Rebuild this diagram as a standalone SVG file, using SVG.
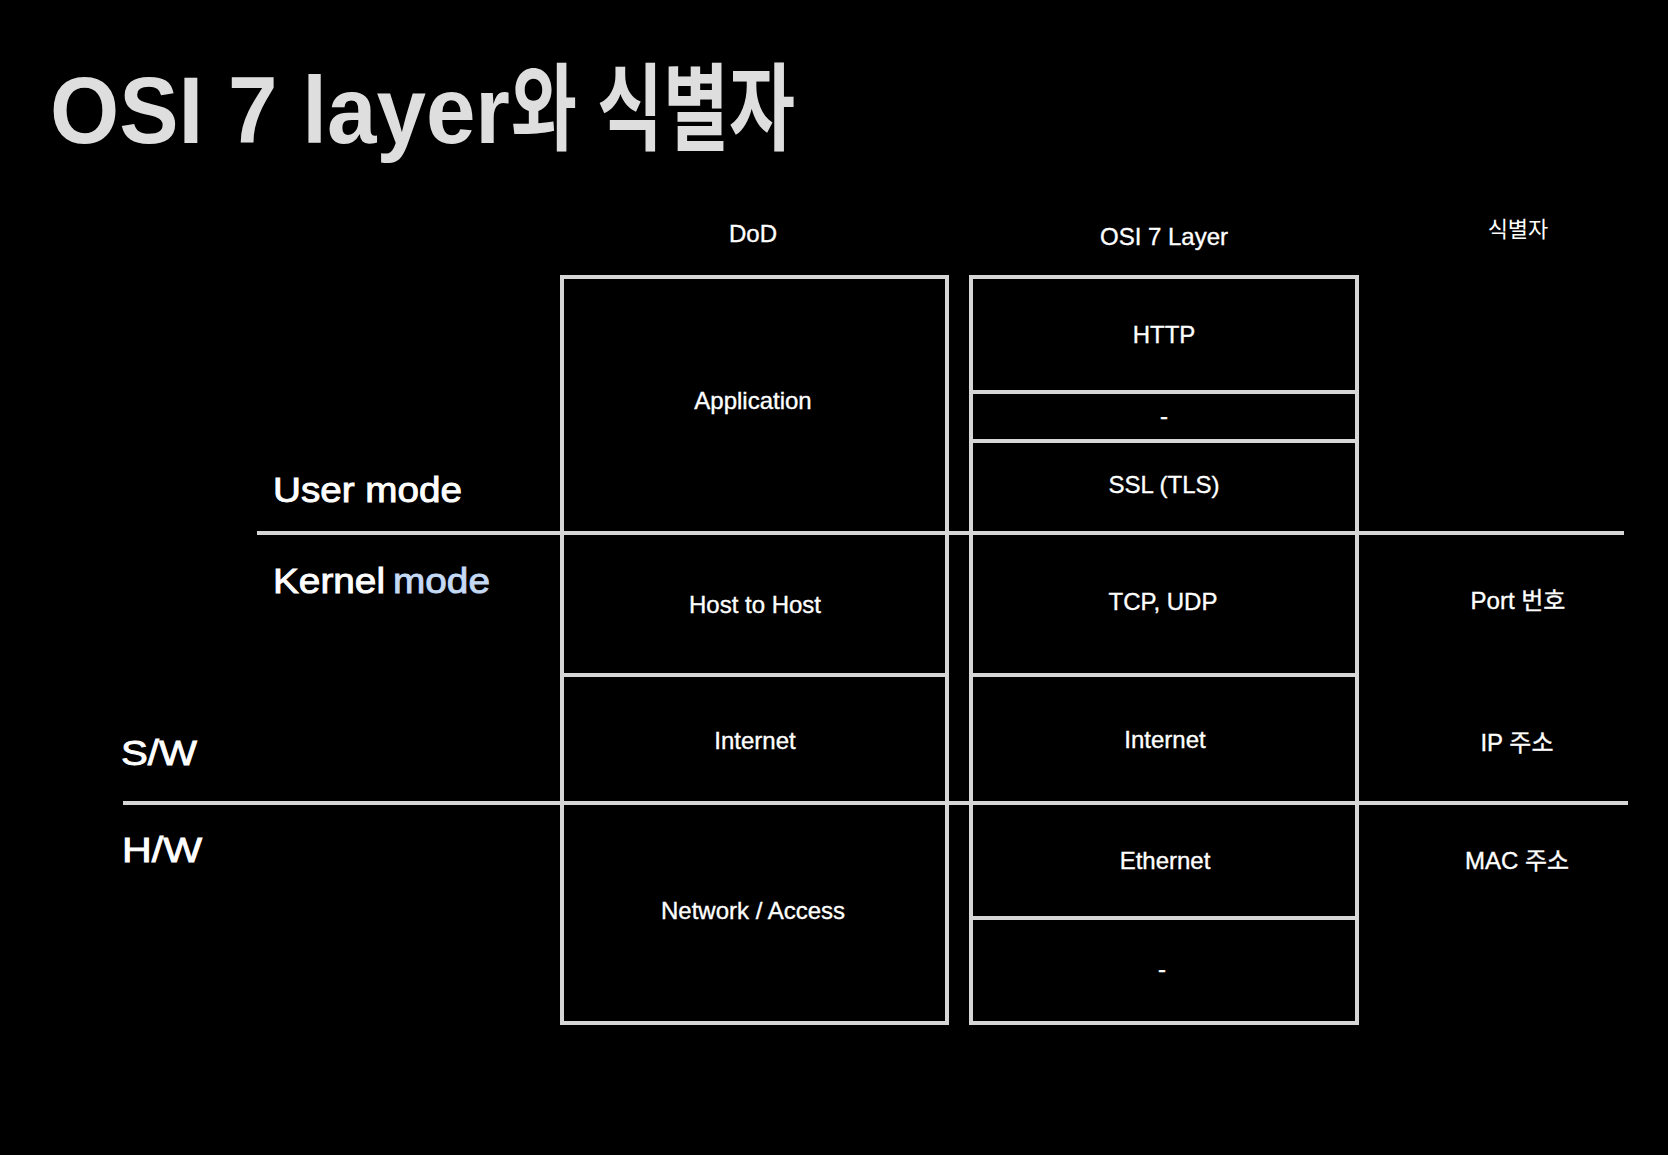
<svg xmlns="http://www.w3.org/2000/svg" width="1668" height="1155" viewBox="0 0 1668 1155">
<style>
.bg{fill:#000}
.box{fill:#000;stroke:#d6d6d6;stroke-width:4}
.sep{stroke:#d6d6d6;stroke-width:4;fill:none}
.t{font-family:"Liberation Sans","Noto Sans CJK KR",sans-serif;fill:#ffffff;font-size:24px;text-anchor:middle;stroke:#ffffff;stroke-width:0.35}
.k{font-family:"Liberation Sans","Noto Sans CJK KR",sans-serif;fill:#ffffff;font-size:22px;text-anchor:middle}
.side{font-family:"Liberation Sans","Noto Sans CJK KR",sans-serif;fill:#ffffff;font-size:35px;stroke:#ffffff;stroke-width:0.9}
.title{font-family:"Liberation Sans","Noto Sans CJK KR",sans-serif;fill:#dedede;font-size:95px;font-weight:bold}
</style>
<rect class="bg" x="0" y="0" width="1668" height="1155"/>
<g id="title">
<text class="title" y="143"><tspan x="50" textLength="460" lengthAdjust="spacingAndGlyphs">OSI 7 layer</tspan><tspan x="511" textLength="284" lengthAdjust="spacingAndGlyphs">와 식별자</tspan></text>
</g>
<g id="headers">
<text class="t" x="753" y="242" font-size="23">DoD</text>
<text class="t" x="1164" y="245">OSI 7 Layer</text>
<text class="k" x="1518" y="237">식별자</text>
</g>
<g id="dod-stack">
<rect class="box" x="562" y="277" width="385" height="746"/>
<line class="sep" x1="562" y1="675" x2="947" y2="675"/>
<text class="t" x="753" y="409">Application</text>
<text class="t" x="755" y="613">Host to Host</text>
<text class="t" x="755" y="749">Internet</text>
<text class="t" x="753" y="919">Network / Access</text>
</g>
<g id="osi-stack">
<rect class="box" x="971" y="277" width="386" height="746"/>
<line class="sep" x1="971" y1="392" x2="1357" y2="392"/>
<line class="sep" x1="971" y1="441" x2="1357" y2="441"/>
<line class="sep" x1="971" y1="675" x2="1357" y2="675"/>
<line class="sep" x1="971" y1="918" x2="1357" y2="918"/>
<text class="t" x="1164" y="343">HTTP</text>
<text class="t" x="1164" y="424">-</text>
<text class="t" x="1164" y="493">SSL (TLS)</text>
<text class="t" x="1163" y="610">TCP, UDP</text>
<text class="t" x="1165" y="748">Internet</text>
<text class="t" x="1165" y="869">Ethernet</text>
<text class="t" x="1162" y="977">-</text>
</g>
<g id="identifiers">
<text class="t" x="1518" y="609">Port 번호</text>
<text class="t" x="1517" y="751">IP 주소</text>
<text class="t" x="1517" y="869">MAC 주소</text>
</g>
<g id="connectors">
<line class="sep" x1="257" y1="533" x2="1624" y2="533"/>
<line class="sep" x1="123" y1="803" x2="1628" y2="803"/>
</g>
<g id="mode-labels">
<text class="side" x="273" y="502" textLength="189" lengthAdjust="spacingAndGlyphs">User mode</text>
<text class="side" x="273" y="593"><tspan textLength="112" lengthAdjust="spacingAndGlyphs">Kernel</tspan><tspan x="393" fill="#c4d9f5" stroke="#c4d9f5" textLength="97" lengthAdjust="spacingAndGlyphs">mode</tspan></text>
<text class="side" x="121" y="765" textLength="76" lengthAdjust="spacingAndGlyphs">S/W</text>
<text class="side" x="122" y="862" textLength="80" lengthAdjust="spacingAndGlyphs">H/W</text>
</g>
</svg>
